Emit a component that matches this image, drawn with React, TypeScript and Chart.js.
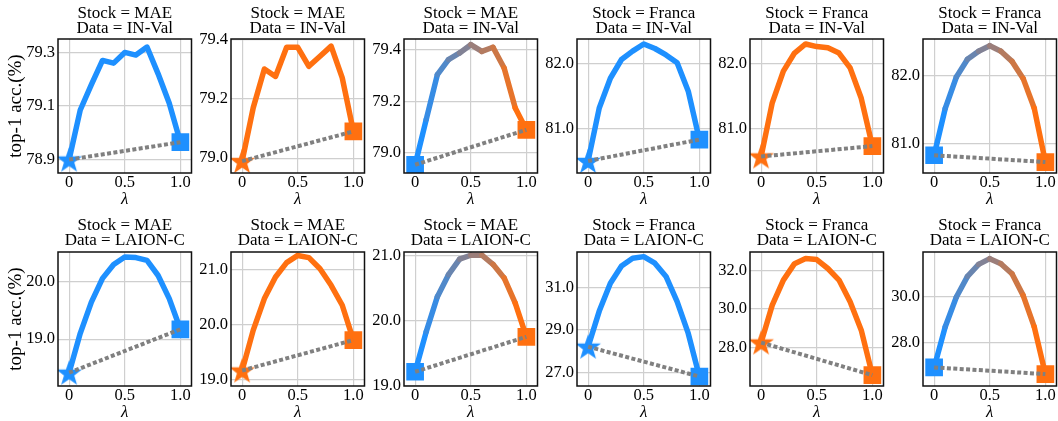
import React, { useEffect, useRef } from 'react';
import { Chart, registerables } from 'chart.js';

Chart.register(...registerables);

// ---------- data ----------
const LAMBDA = [0, 0.1, 0.2, 0.3, 0.4, 0.5, 0.6, 0.7, 0.8, 0.9, 1.0];
const X_TICKS = [0, 0.5, 1.0];
const X_TICK_LABELS = ['0', '0.5', '1.0'];

// Row 1: Data = IN-Val
const MAE_INVAL_BLUE = [78.9, 79.085, 79.18, 79.27, 79.26, 79.3, 79.29, 79.32, 79.22, 79.11, 78.965];
const MAE_INVAL_ORANGE = [78.99, 79.17, 79.3, 79.275, 79.373, 79.373, 79.309, 79.343, 79.377, 79.27, 79.09];
const MAE_INVAL_MERGE = [78.955, 79.13, 79.303, 79.361, 79.387, 79.419, 79.393, 79.409, 79.329, 79.174, 79.09];
const FRANCA_INVAL_BLUE = [80.5, 81.32, 81.78, 82.07, 82.2, 82.31, 82.24, 82.14, 82.02, 81.58, 80.83];
const FRANCA_INVAL_ORANGE = [80.57, 81.4, 81.89, 82.17, 82.31, 82.27, 82.25, 82.17, 81.94, 81.47, 80.73];
const FRANCA_INVAL_MERGE = [80.83, 81.52, 81.98, 82.24, 82.36, 82.44, 82.36, 82.21, 81.96, 81.52, 80.73];

// Row 2: Data = LAION-C
const MAE_LAION_BLUE = [18.42, 19.1, 19.64, 20.05, 20.29, 20.42, 20.41, 20.36, 20.1, 19.7, 19.17];
const MAE_LAION_ORANGE = [19.17, 19.9, 20.47, 20.86, 21.12, 21.25, 21.21, 21.01, 20.71, 20.35, 19.72];
const MAE_LAION_MERGE = [19.21, 19.83, 20.37, 20.71, 20.95, 21.01, 21.01, 20.87, 20.66, 20.27, 19.75];
const FRANCA_LAION_BLUE = [28.21, 29.9, 31.22, 32.04, 32.4, 32.48, 32.17, 31.54, 30.35, 28.84, 26.8];
const FRANCA_LAION_ORANGE = [28.27, 30.2, 31.49, 32.34, 32.6, 32.55, 32.09, 31.49, 30.37, 28.91, 26.59];
const FRANCA_LAION_MERGE = [26.93, 28.7, 30.0, 30.9, 31.42, 31.67, 31.45, 31.01, 30.07, 28.7, 26.64];

// y tick values
const Y_TICKS_MAE_INVAL_BLUE = [78.9, 79.1, 79.3];
const Y_TICKS_MAE_INVAL_ORANGE = [79.0, 79.2, 79.4];
const Y_TICKS_MAE_INVAL_MERGE = [79.0, 79.2, 79.4];
const Y_TICKS_FRANCA_INVAL = [81.0, 82.0];
const Y_TICKS_MAE_LAION_BLUE = [19.0, 20.0];
const Y_TICKS_MAE_LAION_OTHER = [19.0, 20.0, 21.0];
const Y_TICKS_FRANCA_LAION_BLUE = [27.0, 29.0, 31.0];
const Y_TICKS_FRANCA_LAION_ORANGE = [28.0, 30.0, 32.0];
const Y_TICKS_FRANCA_LAION_MERGE = [28.0, 30.0];

const Y_LABEL = 'top-1 acc.(%)';
const X_LABEL = 'λ';

// ---------- styles ----------
const BLUE = '#1E90FF';
const ORANGE = '#FF7010';
const GRAY = '#808080';
const FONT = "'Liberation Serif', 'Times New Roman', Times, serif";

type Kind = 'blue' | 'orange' | 'merge';
type PanelCfg = {
  stock: string;
  dataName: string;
  values: number[];
  kind: Kind;
  yMin: number;
  yMax: number;
  yTicks: number[];
};

const PANELS: PanelCfg[] = [
  { stock: 'MAE', dataName: 'IN-Val', values: MAE_INVAL_BLUE, kind: 'blue', yMin: 78.85, yMax: 79.35, yTicks: Y_TICKS_MAE_INVAL_BLUE },
  { stock: 'MAE', dataName: 'IN-Val', values: MAE_INVAL_ORANGE, kind: 'orange', yMin: 78.95, yMax: 79.401, yTicks: Y_TICKS_MAE_INVAL_ORANGE },
  { stock: 'MAE', dataName: 'IN-Val', values: MAE_INVAL_MERGE, kind: 'merge', yMin: 78.923, yMax: 79.441, yTicks: Y_TICKS_MAE_INVAL_MERGE },
  { stock: 'Franca', dataName: 'IN-Val', values: FRANCA_INVAL_BLUE, kind: 'blue', yMin: 80.314, yMax: 82.387, yTicks: Y_TICKS_FRANCA_INVAL },
  { stock: 'Franca', dataName: 'IN-Val', values: FRANCA_INVAL_ORANGE, kind: 'orange', yMin: 80.314, yMax: 82.387, yTicks: Y_TICKS_FRANCA_INVAL },
  { stock: 'Franca', dataName: 'IN-Val', values: FRANCA_INVAL_MERGE, kind: 'merge', yMin: 80.569, yMax: 82.539, yTicks: Y_TICKS_FRANCA_INVAL },
  { stock: 'MAE', dataName: 'LAION-C', values: MAE_LAION_BLUE, kind: 'blue', yMin: 18.19, yMax: 20.506, yTicks: Y_TICKS_MAE_LAION_BLUE },
  { stock: 'MAE', dataName: 'LAION-C', values: MAE_LAION_ORANGE, kind: 'orange', yMin: 18.89, yMax: 21.312, yTicks: Y_TICKS_MAE_LAION_OTHER },
  { stock: 'MAE', dataName: 'LAION-C', values: MAE_LAION_MERGE, kind: 'merge', yMin: 18.99, yMax: 21.06, yTicks: Y_TICKS_MAE_LAION_OTHER },
  { stock: 'Franca', dataName: 'LAION-C', values: FRANCA_LAION_BLUE, kind: 'blue', yMin: 26.35, yMax: 32.7, yTicks: Y_TICKS_FRANCA_LAION_BLUE },
  { stock: 'Franca', dataName: 'LAION-C', values: FRANCA_LAION_ORANGE, kind: 'orange', yMin: 26.03, yMax: 32.94, yTicks: Y_TICKS_FRANCA_LAION_ORANGE },
  { stock: 'Franca', dataName: 'LAION-C', values: FRANCA_LAION_MERGE, kind: 'merge', yMin: 26.12, yMax: 31.96, yTicks: Y_TICKS_FRANCA_LAION_MERGE },
];

// ---------- layout ----------
const PLOT_LEFT = [58, 231, 404, 577, 750, 923];
const PLOT_W = 134;
const RIGHT_PAD = 12;
const ROWS = [
  { top: 0, height: 210, titleTop: 6.5, titleBottom: 2.5, xAxisH: 37, xTitleBottom: 2 },
  { top: 210, height: 211, titleTop: 8.5, titleBottom: 3.5, xAxisH: 35, xTitleBottom: 0 },
];

function hexToRgb(h: string) {
  const n = parseInt(h.slice(1), 16);
  return [(n >> 16) & 255, (n >> 8) & 255, n & 255];
}
function mix(t: number) {
  const a = hexToRgb(BLUE);
  const b = hexToRgb(ORANGE);
  const c = a.map((v, i) => Math.round(v + (b[i] - v) * t));
  return `rgb(${c[0]},${c[1]},${c[2]})`;
}

const starCache: Record<string, HTMLCanvasElement> = {};
function makeStar(color: string) {
  if (starCache[color]) return starCache[color];
  const S = 32;
  const c = document.createElement('canvas');
  c.width = S;
  c.height = S;
  const g = c.getContext('2d')!;
  const R = 13.5;
  const r = R * 0.4;
  g.fillStyle = color;
  g.beginPath();
  for (let i = 0; i < 10; i++) {
    const a = -Math.PI / 2 + (i * Math.PI) / 5;
    const rad = i % 2 ? r : R;
    const x = S / 2 + rad * Math.cos(a);
    const y = S / 2 + 1 + rad * Math.sin(a);
    if (i === 0) g.moveTo(x, y);
    else g.lineTo(x, y);
  }
  g.closePath();
  g.fill();
  starCache[color] = c;
  return c;
}

const framePlugin = {
  id: 'frame',
  afterDraw(chart: any) {
    const { ctx, chartArea } = chart;
    const { left, top, right, bottom } = chartArea;
    ctx.save();
    ctx.strokeStyle = '#111';
    ctx.lineWidth = 1.5;
    ctx.strokeRect(left, top, right - left, bottom - top);
    ctx.restore();
  },
};

function PanelChart({ p, idx }: { p: PanelCfg; idx: number }) {
  const ref = useRef<HTMLCanvasElement>(null);
  const col = idx % 6;
  const rowIdx = Math.floor(idx / 6);
  const row = ROWS[rowIdx];
  const yw = col === 0 ? 58 : 38;
  const left = PLOT_LEFT[col] - yw;
  const width = yw + PLOT_W + RIGHT_PAD;
  const height = row.height;

  useEffect(() => {
    const n = p.values.length;
    const mainColor = p.kind === 'blue' ? BLUE : p.kind === 'orange' ? ORANGE : BLUE;
    const startColor = p.kind === 'orange' ? ORANGE : BLUE;
    const endColor = p.kind === 'blue' ? BLUE : ORANGE;
    const startStyle: any = p.kind === 'merge' ? 'rect' : makeStar(startColor);
    const ends = [
      { x: LAMBDA[0], y: p.values[0] },
      { x: LAMBDA[n - 1], y: p.values[n - 1] },
    ];
    const tickFont = { family: FONT, size: 16.5, lineHeight: 1.2 };

    const chart = new Chart(ref.current!, {
      type: 'line',
      data: {
        datasets: [
          {
            label: 'gray',
            data: ends,
            borderColor: GRAY,
            borderWidth: 4,
            borderDash: [4, 2.4],
            borderCapStyle: 'butt',
            pointRadius: 0,
            order: 1,
          },
          {
            label: 'markers',
            data: ends,
            showLine: false,
            pointStyle: [startStyle, 'rect'],
            pointRadius: [12.5, 12.5],
            pointBackgroundColor: [startColor, endColor],
            pointBorderColor: [startColor, endColor],
            pointBorderWidth: 0,
            clip: 0,
            order: 2,
          },
          {
            label: 'curve',
            data: LAMBDA.map((x, i) => ({ x, y: p.values[i] })),
            borderColor: mainColor,
            borderWidth: 5.5,
            pointRadius: 0,
            tension: 0,
            borderJoinStyle: 'round',
            borderCapStyle: 'round',
            segment:
              p.kind === 'merge'
                ? { borderColor: (ctx: any) => mix(ctx.p0DataIndex / (n - 2)) }
                : undefined,
            order: 3,
          },
        ] as any,
      },
      options: {
        responsive: false,
        maintainAspectRatio: false,
        animation: false,
        events: [],
        layout: { padding: { left: 0, right: RIGHT_PAD, top: 0, bottom: 0 } },
        plugins: {
          legend: { display: false },
          tooltip: { enabled: false },
          title: {
            display: true,
            fullSize: false,
            text: [`Stock = ${p.stock}`, `Data = ${p.dataName}`],
            color: '#000',
            font: { family: FONT, size: 17, weight: 'normal', lineHeight: '15px' } as any,
            padding: { top: row.titleTop, bottom: row.titleBottom },
          },
        },
        scales: {
          x: {
            type: 'linear',
            min: -0.1,
            max: 1.1,
            afterBuildTicks: (s: any) => {
              s.ticks = X_TICKS.map((v) => ({ value: v }));
            },
            afterFit: (s: any) => {
              s.height = row.xAxisH;
            },
            ticks: {
              autoSkip: false,
              maxRotation: 0,
              padding: 0,
              color: '#000',
              font: tickFont,
              callback: (v: any) => {
                const i = X_TICKS.indexOf(Number(v));
                return i >= 0 ? X_TICK_LABELS[i] : '';
              },
            },
            grid: { color: '#cfcfcf', lineWidth: 1.2, drawTicks: false },
            border: { display: false },
            title: {
              display: true,
              text: X_LABEL,
              color: '#000',
              font: { family: FONT, size: 17, style: 'italic', lineHeight: '16px' } as any,
              padding: { top: 0, bottom: row.xTitleBottom },
            },
          },
          y: {
            type: 'linear',
            min: p.yMin,
            max: p.yMax,
            afterBuildTicks: (s: any) => {
              s.ticks = p.yTicks.map((v) => ({ value: v }));
            },
            afterFit: (s: any) => {
              s.width = yw;
            },
            ticks: {
              autoSkip: false,
              padding: 3,
              color: '#000',
              font: tickFont,
              callback: (v: any) => Number(v).toFixed(1),
            },
            grid: { color: '#cfcfcf', lineWidth: 1.2, drawTicks: false },
            border: { display: false },
            title: {
              display: col === 0,
              text: Y_LABEL,
              color: '#000',
              font: { family: FONT, size: 19, lineHeight: '20px' } as any,
              padding: { top: 6, bottom: 0 },
            },
          },
        },
      } as any,
      plugins: [framePlugin],
    });
    return () => chart.destroy();
  }, []);

  return (
    <canvas
      ref={ref}
      width={width}
      height={height}
      style={{ position: 'absolute', left, top: row.top, width, height }}
    />
  );
}

export default function App() {
  return (
    <div
      style={{
        position: 'fixed',
        left: 0,
        top: 0,
        width: 1058,
        height: 421,
        overflow: 'hidden',
        background: '#fff',
      }}
    >
      {PANELS.map((p, i) => (
        <PanelChart key={i} p={p} idx={i} />
      ))}
    </div>
  );
}
